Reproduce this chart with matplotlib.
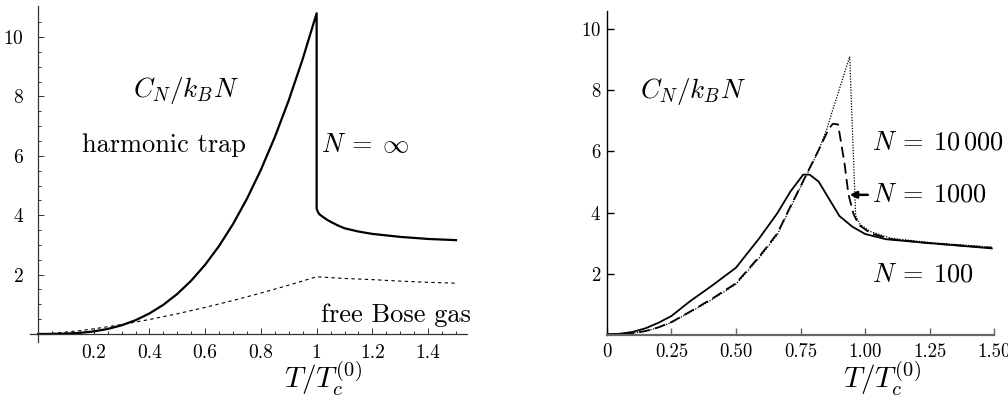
import matplotlib
matplotlib.use("Agg")
from matplotlib import pyplot as plt

plt.rcParams["font.family"] = "serif"
plt.rcParams["font.serif"] = ["cmr10", "DejaVu Serif"]
plt.rcParams["mathtext.fontset"] = "cm"
plt.rcParams["axes.formatter.use_mathtext"] = True

# left panel: N = infinity, harmonic trap (jump at T = Tc)
t_trap = [0.0, 0.05, 0.1, 0.15, 0.2, 0.25, 0.3, 0.35, 0.4, 0.45, 0.5, 0.55, 0.6, 0.65, 0.7,
          0.75, 0.8, 0.85, 0.9, 0.95, 1.0, 1.0, 1.005, 1.01, 1.02, 1.035, 1.05, 1.075, 1.1,
          1.15, 1.2, 1.3, 1.4, 1.5]
c_trap = [0.0, 0.001, 0.011, 0.037, 0.086, 0.169, 0.292, 0.463, 0.691, 0.984, 1.35, 1.797,
          2.333, 2.966, 3.704, 4.556, 5.53, 6.633, 7.873, 9.26, 10.8, 4.22, 4.1, 4.03, 3.96,
          3.86, 3.78, 3.66, 3.56, 3.45, 3.37, 3.27, 3.2, 3.16]

# left panel: free Bose gas
t_free = [0.0, 0.05, 0.1, 0.15, 0.2, 0.3, 0.4, 0.5, 0.6, 0.7, 0.8, 0.9, 1.0, 1.1, 1.2, 1.3,
          1.4, 1.5]
c_free = [0.0, 0.022, 0.061, 0.112, 0.172, 0.316, 0.487, 0.681, 0.895, 1.128, 1.378, 1.644,
          1.926, 1.87, 1.83, 1.78, 1.74, 1.71]

left_xticks = [0.2, 0.4, 0.6, 0.8, 1.0, 1.2, 1.4]
left_xlabels = ["0.2", "0.4", "0.6", "0.8", "1", "1.2", "1.4"]
left_yticks = [2, 4, 6, 8, 10]

# right panel: finite N
t_100 = [0.0, 0.05, 0.1, 0.15, 0.2, 0.25, 0.32, 0.41, 0.5, 0.59, 0.66, 0.71, 0.76, 0.785,
         0.82, 0.9, 0.95, 1.0, 1.08, 1.25, 1.49]
c_100 = [0.02, 0.04, 0.1, 0.22, 0.4, 0.62, 1.09, 1.63, 2.2, 3.16, 3.98, 4.68, 5.24, 5.24,
         5.01, 3.89, 3.54, 3.3, 3.13, 3.0, 2.83]

t_1000 = [0.0, 0.05, 0.1, 0.15, 0.2, 0.25, 0.33, 0.41, 0.5, 0.59, 0.66, 0.71, 0.77, 0.82,
          0.86, 0.875, 0.895, 0.92, 0.935, 0.955, 0.975, 1.02, 1.1, 1.25, 1.49]
c_1000 = [0.02, 0.03, 0.06, 0.13, 0.25, 0.42, 0.8, 1.2, 1.69, 2.56, 3.32, 4.19, 5.2, 6.05,
          6.75, 6.9, 6.88, 5.6, 4.6, 3.95, 3.6, 3.33, 3.13, 3.0, 2.85]

t_10000 = [0.0, 0.05, 0.1, 0.15, 0.2, 0.25, 0.33, 0.41, 0.5, 0.59, 0.66, 0.71, 0.77, 0.82,
           0.85, 0.94, 0.963, 0.98, 1.02, 1.1, 1.25, 1.49]
c_10000 = [0.02, 0.03, 0.06, 0.12, 0.24, 0.41, 0.78, 1.17, 1.66, 2.52, 3.28, 4.15, 5.17,
           6.03, 6.7, 9.1, 3.9, 3.62, 3.38, 3.16, 3.02, 2.87]

right_xticks = [0, 0.25, 0.5, 0.75, 1.0, 1.25, 1.5]
right_xlabels = ["0", "0.25", "0.50", "0.75", "1.00", "1.25", "1.50"]
right_yticks = [2, 4, 6, 8, 10]

fig = plt.figure(figsize=(10.08, 4.01), dpi=100)
note_size = 19

# ---- left panel
ax1 = fig.add_axes([0.0294, 0.1464, 0.434, 0.839])
ax1.plot(t_trap, c_trap, color="black", lw=1.6)
ax1.plot(t_free, c_free, color="black", lw=0.8, linestyle=(0, (3, 3)))
ax1.set_xlim(-0.03, 1.54)
ax1.set_ylim(-0.28, 11.05)
for side in ["top", "right"]:
    ax1.spines[side].set_visible(False)
ax1.spines["left"].set_position(("data", 0))
ax1.spines["bottom"].set_position(("data", 0))
for side in ["left", "bottom"]:
    ax1.spines[side].set_color("#333333")
    ax1.spines[side].set_linewidth(0.9)
ax1.set_xticks(left_xticks)
ax1.set_xticklabels(left_xlabels)
ax1.set_xticks([i * 0.05 for i in range(1, 31)], minor=True)
ax1.set_yticks(left_yticks)
ax1.set_yticks([i * 0.5 for i in range(1, 22)], minor=True)
ax1.tick_params(which="both", direction="in", color="#333333", width=0.7)
ax1.tick_params(which="major", length=4, labelsize=14)
ax1.tick_params(which="minor", length=2.5)
ax1.tick_params(axis="x", which="major", pad=7)
ax1.tick_params(axis="y", which="major", pad=10)
ax1.text(0.341, 8.2, r"$C_N/k_BN$", fontsize=note_size + 0.5, va="center", ha="left")
ax1.text(0.158, 6.36, "harmonic trap", fontsize=note_size, va="center", ha="left")
ax1.text(1.015, 6.36, r"$N\:=\:\infty$", fontsize=note_size, va="center", ha="left")
ax1.text(1.015, 0.64, "free Bose gas", fontsize=note_size, va="center", ha="left")
fig.text(323 / 1008, 0.032, r"$T/T_c^{(0)}$", fontsize=21, ha="center", va="baseline")

# ---- right panel
ax2 = fig.add_axes([0.602, 0.1646, 0.3845, 0.809])
ax2.plot(t_100, c_100, color="black", lw=1.3)
ax2.plot(t_1000, c_1000, color="black", lw=1.3, linestyle=(0, (6, 3)))
ax2.plot(t_10000, c_10000, color="black", lw=0.9, linestyle=(0, (1, 1.2)))
ax2.set_xlim(0, 1.5)
ax2.set_ylim(0, 10.6)
for side in ["top", "right"]:
    ax2.spines[side].set_visible(False)
ax2.spines["left"].set_color("black")
ax2.spines["left"].set_linewidth(1.0)
ax2.spines["bottom"].set_color("#666666")
ax2.spines["bottom"].set_linewidth(1.6)
ax2.set_xticks(right_xticks)
ax2.set_xticklabels(right_xlabels)
ax2.set_yticks(right_yticks)
ax2.tick_params(direction="in", length=5, width=1.0, labelsize=13.5)
ax2.tick_params(axis="x", color="#666666", pad=6)
ax2.tick_params(axis="y", color="black", pad=4)
ax2.text(0.128, 7.94, r"$C_N/k_BN$", fontsize=note_size + 0.5, va="center", ha="left")
ax2.text(1.026, 6.27, r"$N\:=\:10\,000$", fontsize=note_size, va="center", ha="left")
ax2.text(1.026, 4.58, r"$N\:=\:1000$", fontsize=note_size, va="center", ha="left")
ax2.text(1.026, 1.96, r"$N\:=\:100$", fontsize=note_size, va="center", ha="left")
ax2.annotate("", xy=(0.94, 4.58), xytext=(1.01, 4.58),
             arrowprops=dict(arrowstyle="-|>", color="black", lw=1.8,
                             mutation_scale=10, shrinkA=0, shrinkB=0))
fig.text(882 / 1008, 0.032, r"$T/T_c^{(0)}$", fontsize=21, ha="center", va="baseline")

plt.savefig("out.png", dpi=100)
